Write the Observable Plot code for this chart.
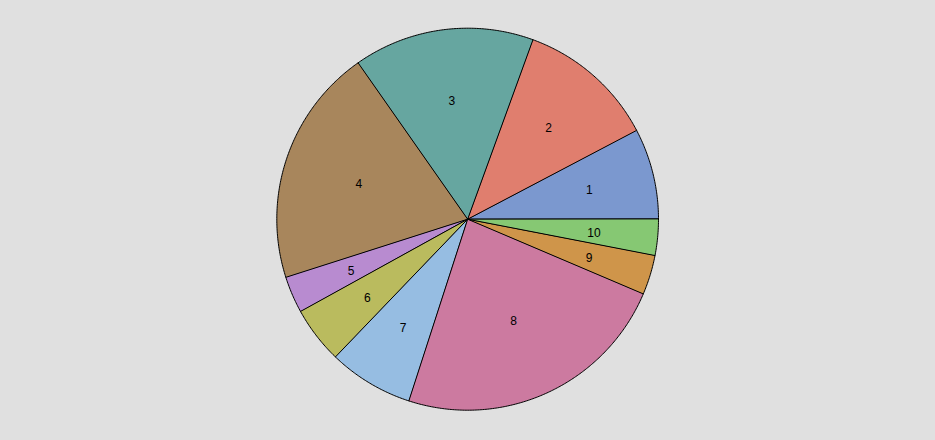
<!DOCTYPE html>
<html>
<head>
<meta charset="utf-8">
<script src="https://cdn.jsdelivr.net/npm/d3@7"></script>
<script src="https://cdn.jsdelivr.net/npm/@observablehq/plot@0.6"></script>
<style>
  html, body { margin: 0; padding: 0; background: #e0e0e0; }
  #chart { width: 935px; height: 440px; overflow: hidden; }
</style>
</head>
<body>
<div id="chart"></div>
<script>
const categories = ["1", "2", "3", "4", "5", "6", "7", "8", "9", "10"];
const values = [7.7, 11.75, 15.3, 20.2, 3.1, 4.8, 7.2, 23.6, 3.35, 3.05];
const colors = ["#7b98cf", "#e07e6e", "#66a6a0", "#a8865c", "#b88bd0", "#babb5e", "#96bde2", "#cc7aa0", "#cf954a", "#86c873"];

const total = d3.sum(values);
let start = 0;
const slices = categories.map((c, i) => {
  const a0 = start;
  const a1 = start + values[i] / total * 2 * Math.PI;
  start = a1;
  return {label: c, a0, a1};
});

// polygon vertices (unit circle), counterclockwise from 3 o'clock
const points = [];
for (const s of slices) {
  points.push({label: s.label, x: 0, y: 0});
  const n = Math.max(2, Math.ceil((s.a1 - s.a0) / (Math.PI / 360)));
  for (let k = 0; k <= n; k++) {
    const a = s.a0 + (s.a1 - s.a0) * k / n;
    points.push({label: s.label, x: Math.cos(a), y: Math.sin(a)});
  }
}

// labels near sector centroids
const labels = slices.map(s => {
  const h = (s.a1 - s.a0) / 2;
  const m = s.a0 + h;
  const r = (2 / 3) * Math.pow(Math.sin(h) / h, 1.5);
  return {label: s.label, x: r * Math.cos(m), y: r * Math.sin(m)};
});

const chart = Plot.plot({
  width: 935,
  height: 440,
  marginLeft: 276.3,
  marginRight: 277,
  marginTop: 27.7,
  marginBottom: 30.3,
  x: {domain: [-1, 1], axis: null},
  y: {domain: [-1, 1], axis: null},
  color: {domain: categories, range: colors},
  style: {background: "#e0e0e0", fontFamily: "'Liberation Sans', Arial, sans-serif", overflow: "visible"},
  marks: [
    Plot.line(points, {x: "x", y: "y", z: "label", fill: "label", stroke: "black", strokeWidth: 1, curve: "linear-closed"}),
    Plot.text(labels, {x: "x", y: "y", text: "label", fontSize: 12, fill: "black", dy: 1.5})
  ]
});
document.getElementById("chart").appendChild(chart);
</script>
</body>
</html>
